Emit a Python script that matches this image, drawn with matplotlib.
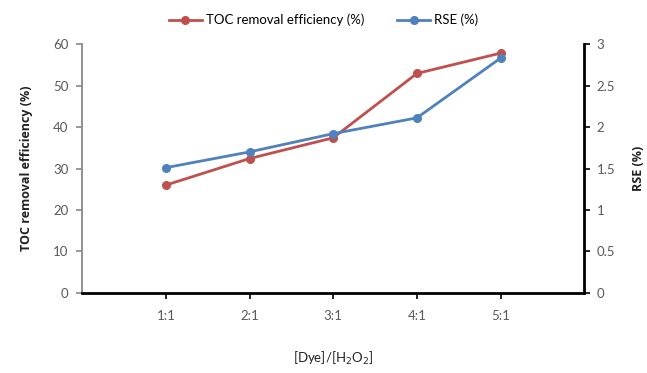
import matplotlib.pyplot as plt

plt.rcParams['font.family'] = ['Lato', 'DejaVu Sans']

# data
ratios = ['1:1', '2:1', '3:1', '4:1', '5:1']
toc_removal = [26.0, 32.4, 37.4, 52.9, 57.8]
rse = [1.51, 1.70, 1.92, 2.11, 2.83]

red = '#C0504D'
blue = '#4F81BD'
grey = '#595959'

fig, ax = plt.subplots(figsize=(6.47, 3.73), dpi=100)
fig.subplots_adjust(left=0.127, right=0.903, bottom=0.2145, top=0.882)
ax2 = ax.twinx()

x = list(range(1, len(ratios) + 1))
l1, = ax.plot(x, toc_removal, color=red, lw=2.0, marker='o', ms=5.5,
              label='TOC removal efficiency (%)')
l2, = ax2.plot(x, rse, color=blue, lw=2.0, marker='o', ms=5.5, label='RSE (%)')

ax.set_xlim(0, 6)
ax.set_xticks(x)
ax.set_xticklabels(ratios)
ax.set_ylim(0, 60)
ax.set_yticks(range(0, 61, 10))
ax2.set_ylim(0, 3)
ax2.set_yticks([0, 0.5, 1, 1.5, 2, 2.5, 3])
ax2.set_yticklabels(['0', '0.5', '1', '1.5', '2', '2.5', '3'])

for a in (ax, ax2):
    a.tick_params(labelsize=9.5, labelcolor=grey, length=4, width=1.2, direction='out')
    a.spines['top'].set_visible(False)
ax.spines['left'].set_color('#888888')
ax.spines['left'].set_linewidth(1.3)
ax.spines['bottom'].set_linewidth(2.0)
ax2.spines['right'].set_linewidth(2.0)
ax2.spines['left'].set_visible(False)
ax2.spines['bottom'].set_visible(False)
ax.tick_params(axis='y', color='#888888', pad=6)
ax2.tick_params(axis='y', pad=5)
ax.tick_params(axis='x', pad=8)

bold = ['Open Sans', 'DejaVu Sans']
ax.set_ylabel('TOC removal efficiency (%)', fontsize=9, fontweight='bold',
              family=bold, labelpad=14, color='#222222')
ax2.set_ylabel('RSE (%)', fontsize=9, fontweight='bold', family=bold,
               labelpad=12, color='#222222')
ax.set_xlabel('[Dye]/[H$_2$O$_2$]', fontsize=9.5, labelpad=20, color='#222222')

fig.legend(handles=[l1, l2], loc='upper center', bbox_to_anchor=(0.5, 0.995),
           ncol=2, frameon=False, fontsize=9.5, handlelength=2.5,
           columnspacing=2.5, handletextpad=0.3)

fig.savefig('out.png', dpi=100)
